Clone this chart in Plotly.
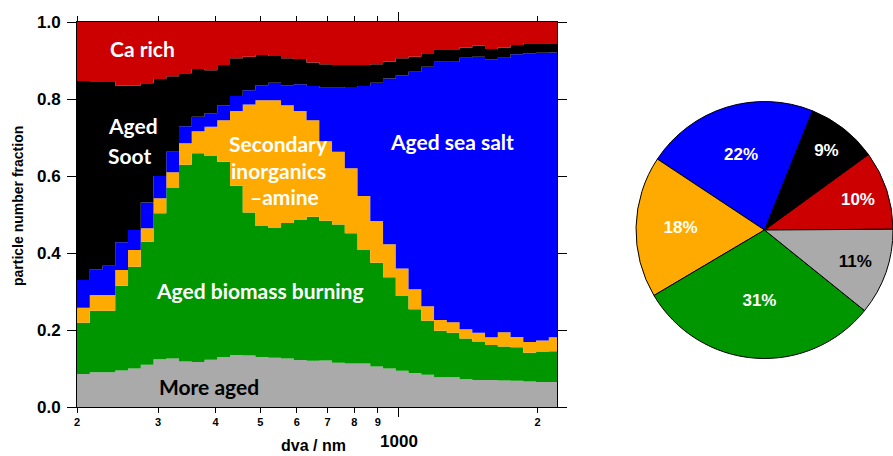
import plotly.graph_objects as go

# ---- data -------------------------------------------------------------
# lower bin edges of dva (nm), log-spaced bins; last entry closes the final bin
dva_edges = [200.0, 213.2, 227.2, 242.1, 258.1, 275.1, 293.2, 312.5, 333.0, 354.9,
             378.3, 403.2, 429.7, 458.0, 488.1, 520.3, 554.5, 591.0, 629.9, 671.4,
             715.6, 762.7, 812.9, 866.4, 923.4, 984.1, 1048.9, 1117.9, 1191.5, 1269.9,
             1353.5, 1442.6, 1537.5, 1638.7, 1746.6, 1861.5, 1984.0, 2114.6, 2253.8]

more_aged = [.086, .090, .090, .095, .100, .110, .124, .126, .118, .117,
             .123, .130, .135, .134, .130, .128, .126, .122, .120, .121,
             .115, .113, .113, .105, .100, .094, .088, .084, .077, .077,
             .072, .070, .070, .069, .068, .066, .065, .065]
biomass = [.133, .160, .160, .220, .264, .319, .379, .444, .511, .542,
           .529, .507, .440, .371, .340, .337, .352, .364, .374, .363,
           .359, .338, .295, .270, .237, .194, .166, .140, .121, .116,
           .106, .100, .091, .088, .087, .075, .079, .080]
secondary = [.039, .041, .041, .041, .044, .035, .039, .040, .056, .057,
             .076, .108, .194, .281, .327, .332, .306, .283, .251, .206,
             .189, .169, .140, .108, .086, .072, .052, .038, .028, .027,
             .024, .023, .020, .037, .027, .028, .029, .036]
sea_salt = [.072, .067, .076, .072, .052, .067, .058, .053, .044, .038,
            .035, .039, .039, .037, .039, .045, .052, .069, .089, .139,
            .166, .211, .286, .359, .430, .502, .565, .622, .671, .677,
            .705, .717, .722, .713, .734, .750, .747, .740]
soot = [.517, .488, .479, .407, .375, .310, .252, .196, .138, .124,
        .112, .104, .098, .087, .078, .070, .070, .066, .061, .061,
        .059, .057, .054, .048, .044, .044, .039, .035, .032, .032,
        .027, .028, .027, .027, .024, .026, .023, .024]
ca_rich = [.153, .154, .154, .165, .165, .159, .148, .141, .133, .122,
           .125, .112, .094, .090, .086, .088, .094, .096, .105, .110,
           .112, .112, .112, .110, .103, .094, .090, .081, .071, .071,
           .066, .062, .070, .066, .060, .055, .057, .055]

x_tickvals = [200, 300, 400, 500, 600, 700, 800, 900, 2000]
x_ticktext = ["2", "3", "4", "5", "6", "7", "8", "9", "2"]
y_tickvals = [0.0, 0.2, 0.4, 0.6, 0.8, 1.0]

pie_labels = ["Ca rich", "Aged Soot", "Aged sea salt", "Secondary inorganics\u2013amine",
              "Aged biomass burning", "More aged"]
pie_values = [10, 9, 22, 18, 31, 11]
pie_text = ["10%", "9%", "22%", "18%", "31%", "11%"]

# ---- styles -----------------------------------------------------------
C_GRAY = "#AAAAAA"
C_GREEN = "#009600"
C_ORANGE = "#FFAA00"
C_BLUE = "#0000FF"
C_BLACK = "#000000"
C_RED = "#CC0000"

W, H = 893, 456
AX_FONT = "Liberation Sans, Arial, sans-serif"
LBL_FONT = "Lato, Open Sans, sans-serif"

fig = go.Figure()

series = [(more_aged, C_GRAY), (biomass, C_GREEN), (secondary, C_ORANGE),
          (sea_salt, C_BLUE), (soot, C_BLACK), (ca_rich, C_RED)]
for vals, col in series:
    fig.add_trace(go.Scatter(
        x=dva_edges, y=list(vals) + [vals[-1]],
        mode="lines", stackgroup="one",
        line=dict(width=0, shape="hv", color=col),
        fillcolor=col, hoverinfo="skip", showlegend=False,
        xaxis="x", yaxis="y"))

# invisible helper trace so the overlay axis (long 1000 tick) is drawn
fig.add_trace(go.Scatter(x=[dva_edges[0]], y=[0], mode="markers",
                         marker=dict(opacity=0), hoverinfo="skip",
                         showlegend=False, xaxis="x2", yaxis="y"))

fig.add_trace(go.Pie(
    labels=pie_labels, values=pie_values, text=pie_text,
    textinfo="text", textposition="inside", insidetextorientation="horizontal",
    sort=False, direction="counterclockwise", rotation=54,
    marker=dict(colors=[C_RED, C_BLACK, C_BLUE, C_ORANGE, C_GREEN, C_GRAY],
                line=dict(color="black", width=1)),
    textfont=dict(family=AX_FONT, size=17, weight="bold",
                  color=["white", "white", "white", "white", "white", "black"]),
    domain=dict(x=[636 / W, 1.0], y=[0.2138, 0.7774]),
    hoverinfo="skip", showlegend=False))

x0, x1 = 77 / W, 557 / W
y0, y1 = (H - 407) / H, (H - 22) / H
xr = [2.30103, 3.3430]

fig.update_layout(
    width=W, height=H,
    margin=dict(l=0, r=0, t=0, b=0),
    paper_bgcolor="white", plot_bgcolor="white",
    showlegend=False,
    xaxis=dict(type="log", range=xr, domain=[x0, x1], anchor="y", automargin=False,
               tickmode="array", tickvals=x_tickvals, ticktext=x_ticktext,
               ticks="outside", ticklen=5, tickwidth=1, tickcolor="black",
               showline=True, linecolor="black", linewidth=1, mirror="ticks",
               showgrid=False, zeroline=False,
               tickfont=dict(family=AX_FONT, size=11, weight="bold", color="black")),
    xaxis2=dict(type="log", range=xr, domain=[x0, x1], anchor="y", overlaying="x",
                automargin=False,
                side="bottom", tickmode="array", tickvals=[1000], ticktext=["1000"],
                ticks="outside", ticklen=9, tickwidth=1, tickcolor="black",
                showline=False, mirror="ticks", showgrid=False, zeroline=False,
                ticklabelstandoff=10,
                tickfont=dict(family=AX_FONT, size=17, weight="bold", color="black")),
    yaxis=dict(range=[0, 1], domain=[y0, y1], anchor="x", automargin=False,
               tickmode="array", tickvals=y_tickvals, tickformat=".1f",
               ticks="outside", ticklen=9, tickwidth=1, tickcolor="black",
               showline=True, linecolor="black", linewidth=1, mirror="ticks",
               showgrid=False, zeroline=False, ticklabelstandoff=3,
               tickfont=dict(family=AX_FONT, size=17, weight="bold", color="black")),
)

def ann(text, px, py, color="white", size=21, family=LBL_FONT, xanchor="center",
        angle=0, weight="bold"):
    fig.add_annotation(text=text, xref="paper", yref="paper",
                       x=px / W, y=(H - py) / H, xanchor=xanchor, yanchor="middle",
                       showarrow=False, textangle=angle, borderpad=0,
                       font=dict(family=family, size=size, color=color, weight=weight))

# class labels in the stacked chart
ann("Ca rich", 142, 48)
ann("Aged", 107, 126, xanchor="left")
ann("Soot", 107, 155, xanchor="left")
ann("Secondary", 278, 143)
ann("inorganics", 278, 170)
ann("\u2013amine", 284, 197)
ann("Aged sea salt", 452, 141)
ann("Aged biomass burning", 260, 290)
ann("More aged", 209, 386, color="black")

# axis titles
ann("dva / nm", 313, 445, color="black", size=16, family=AX_FONT)
ann("particle number fraction", 18, 206, color="black", size=14, family=AX_FONT, angle=-90)

fig.write_html("out.html")
